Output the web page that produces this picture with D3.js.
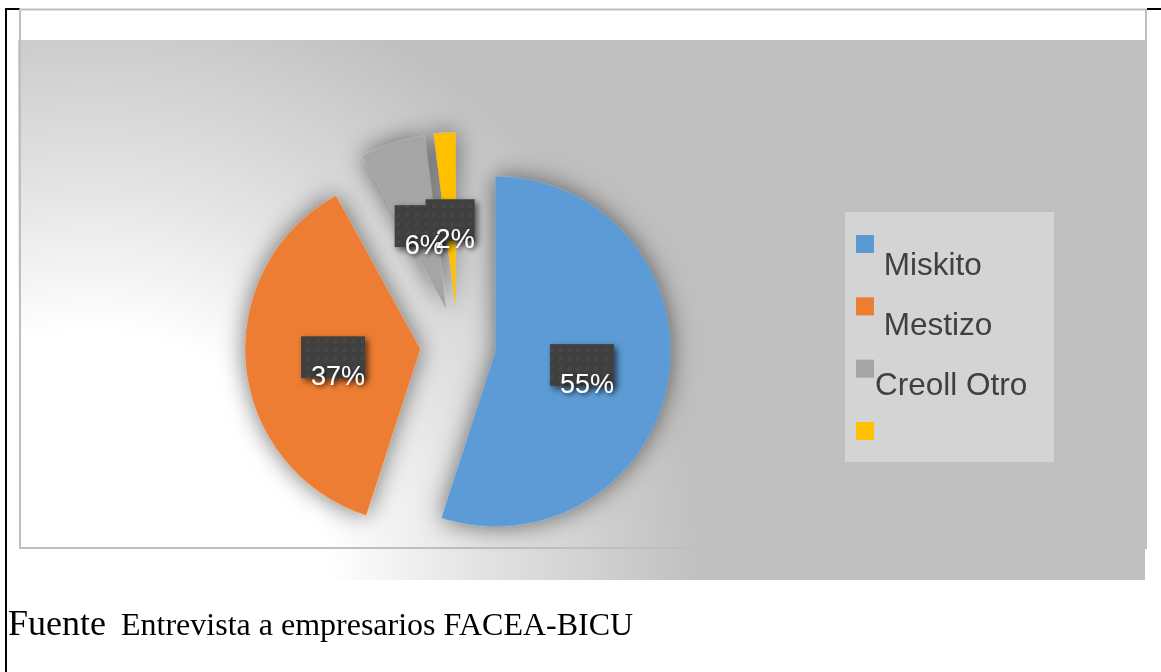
<!DOCTYPE html>
<html>
<head>
<meta charset="utf-8">
<script src="https://cdn.jsdelivr.net/npm/d3@7/dist/d3.min.js"></script>
<style>
  body { margin: 0; background: #fff; }
  svg { display: block; }
  .leg text { white-space: pre; }
</style>
</head>
<body>
<svg id="chart"></svg>
<script>
const categories = ["Miskito", "Mestizo", "Creoll", "Otro"];
const values = [55, 37, 6, 2];
const colors = ["#5b9bd5", "#ed7d31", "#a5a5a5", "#ffc000"];
const legendLabels = [" Miskito", " Mestizo", "Creoll Otro", ""];
const sourceLabel = "Fuente";
const sourceText = "Entrevista a empresarios FACEA-BICU";

const width = 1161;
const height = 672;

const cx = 458, cy = 345.5;
const radius = 175;
const explode = 38;

const svg = d3.select("#chart")
    .attr("width", width)
    .attr("height", height);

const defs = svg.append("defs");

const grad = defs.append("radialGradient")
    .attr("id", "bg")
    .attr("gradientUnits", "userSpaceOnUse")
    .attr("cx", 90).attr("cy", 570).attr("r", 660);
grad.append("stop").attr("offset", 0).attr("stop-color", "#ffffff");
grad.append("stop").attr("offset", 0.36).attr("stop-color", "#ffffff");
grad.append("stop").attr("offset", 0.6).attr("stop-color", "#e2e2e2");
grad.append("stop").attr("offset", 0.93).attr("stop-color", "#bfbfbf");
grad.append("stop").attr("offset", 1).attr("stop-color", "#bfbfbf");

defs.append("filter").attr("id", "pieShadow")
    .attr("x", "-40%").attr("y", "-40%").attr("width", "180%").attr("height", "180%")
    .append("feDropShadow")
    .attr("dx", 0).attr("dy", 0).attr("stdDeviation", 12)
    .attr("flood-color", "#000").attr("flood-opacity", 0.55);

defs.append("filter").attr("id", "boxShadow")
    .attr("x", "-30%").attr("y", "-30%").attr("width", "160%").attr("height", "160%")
    .append("feDropShadow")
    .attr("dx", 3).attr("dy", 3).attr("stdDeviation", 3)
    .attr("flood-color", "#000").attr("flood-opacity", 0.6);

defs.append("filter").attr("id", "textShadow")
    .attr("x", "-30%").attr("y", "-30%").attr("width", "160%").attr("height", "160%")
    .append("feDropShadow")
    .attr("dx", 2).attr("dy", 2).attr("stdDeviation", 2)
    .attr("flood-color", "#000").attr("flood-opacity", 0.6);

const pat = defs.append("pattern")
    .attr("id", "boxPattern")
    .attr("patternUnits", "userSpaceOnUse")
    .attr("width", 9).attr("height", 9);
pat.append("rect").attr("width", 9).attr("height", 9).attr("fill", "#404040");
pat.append("line")
    .attr("x1", 2).attr("y1", 6).attr("x2", 5).attr("y2", 3)
    .attr("stroke", "#4c4c4c").attr("stroke-width", 1.6);

// document table lines
svg.append("line").attr("x1", 6).attr("y1", 8).attr("x2", 6).attr("y2", height)
    .attr("stroke", "#000").attr("stroke-width", 2);
svg.append("line").attr("x1", 5).attr("y1", 9).attr("x2", 20).attr("y2", 9)
    .attr("stroke", "#000").attr("stroke-width", 2);
svg.append("line").attr("x1", 1147).attr("y1", 9).attr("x2", width).attr("y2", 9)
    .attr("stroke", "#000").attr("stroke-width", 2);

// plot area
svg.append("rect")
    .attr("x", 18).attr("y", 40)
    .attr("width", 1127).attr("height", 540)
    .attr("fill", "url(#bg)");

// chart frame
svg.append("rect")
    .attr("x", 20).attr("y", 9.5)
    .attr("width", 1126).attr("height", 538.5)
    .attr("fill", "none")
    .attr("stroke", "#bfbfbf")
    .attr("stroke-width", 2);

const pie = d3.pie().sort(null).value(d => d)(values);
const arc = d3.arc().innerRadius(0).outerRadius(radius);

const offset = d => {
    const a = (d.startAngle + d.endAngle) / 2;
    return [Math.sin(a) * explode, -Math.cos(a) * explode];
};

const pieG = svg.append("g")
    .attr("transform", `translate(${cx},${cy})`)
    .attr("filter", "url(#pieShadow)");

pieG.selectAll("path")
    .data(pie)
    .enter()
    .append("path")
    .attr("d", arc)
    .attr("transform", d => `translate(${offset(d)})`)
    .attr("fill", (d, i) => colors[i]);

// data labels
const labelG = svg.append("g").attr("transform", `translate(${cx},${cy})`);

const labelPos = d => {
    const c = arc.centroid(d);
    const o = offset(d);
    return [c[0] + o[0], c[1] + o[1]];
};

const texts = labelG.selectAll("text")
    .data(pie)
    .enter()
    .append("text")
    .attr("font-family", "'Liberation Sans', Arial, sans-serif")
    .attr("font-size", 27)
    .attr("fill", "#fff")
    .attr("text-anchor", "middle")
    .attr("filter", "url(#textShadow)")
    .attr("x", d => labelPos(d)[0] + 5)
    .attr("y", d => labelPos(d)[1] + 28)
    .text(d => d.data + "%");

const widths = [];
texts.each(function () { widths.push(this.getComputedTextLength()); });

labelG.selectAll("rect")
    .data(pie)
    .enter()
    .insert("rect", "text")
    .attr("x", (d, i) => labelPos(d)[0] - (widths[i] + 10) / 2)
    .attr("y", d => labelPos(d)[1] - 21)
    .attr("width", (d, i) => widths[i] + 10)
    .attr("height", 42)
    .attr("fill", "url(#boxPattern)")
    .attr("filter", "url(#boxShadow)");

// legend
const legend = svg.append("g").attr("class", "leg");
legend.append("rect")
    .attr("x", 845).attr("y", 212)
    .attr("width", 209).attr("height", 250)
    .attr("fill", "#d4d4d4");

const swatchY = d3.scaleLinear().domain([0, categories.length - 1]).range([235, 422]);
const textY = d3.scaleLinear().domain([0, 2]).range([275, 395]);

legend.selectAll(".sw")
    .data(categories)
    .enter()
    .append("rect")
    .attr("class", "sw")
    .attr("x", 856)
    .attr("y", (d, i) => swatchY(i))
    .attr("width", 18).attr("height", 18)
    .attr("fill", (d, i) => colors[i]);

legend.selectAll(".lt")
    .data(legendLabels)
    .enter()
    .append("text")
    .attr("class", "lt")
    .attr("x", 875)
    .attr("y", (d, i) => textY(i))
    .attr("font-family", "'Liberation Sans', Arial, sans-serif")
    .attr("font-size", 31.5)
    .attr("fill", "#404040")
    .text(d => d);

// source line
svg.append("text")
    .attr("x", 8).attr("y", 635)
    .attr("font-family", "'Liberation Serif', 'Times New Roman', serif")
    .attr("font-size", 36)
    .attr("fill", "#000")
    .text(sourceLabel);
svg.append("text")
    .attr("x", 121).attr("y", 635)
    .attr("font-family", "'Liberation Serif', 'Times New Roman', serif")
    .attr("font-size", 32)
    .attr("fill", "#000")
    .text(sourceText);
</script>
</body>
</html>
